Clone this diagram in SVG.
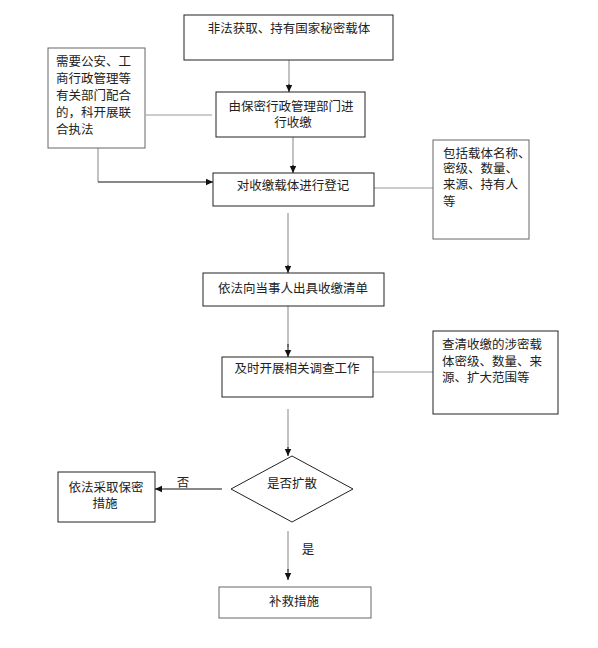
<svg xmlns="http://www.w3.org/2000/svg" width="598" height="648" viewBox="0 0 598 648">
<style>
.box{fill:#fff;stroke:#222;stroke-width:1}
.gbox{fill:#fff;stroke:#666;stroke-width:1}
text{font-family:"Liberation Serif","Noto Sans CJK SC",serif;font-size:12.5px;fill:#222}
.c{text-anchor:middle}
.g{fill:none;stroke:#999;stroke-width:1.2}
.k{fill:none;stroke:#111;stroke-width:1}
</style>
<defs>
<marker id="ah" markerWidth="8" markerHeight="8" refX="7" refY="4" orient="auto" markerUnits="userSpaceOnUse">
<path d="M0,0.8 L7,4 L0,7.2 Z" fill="#111"/>
</marker>
</defs>
<rect width="598" height="648" fill="#fff"/>
<g id="connectors">
<path class="g" d="M289,58 V86"/><path class="k" d="M289,84 V92" marker-end="url(#ah)"/>
<path class="g" d="M146,115 H212"/>
<path class="g" d="M293,137 V168"/><path class="k" d="M293,165 V173" marker-end="url(#ah)"/>
<path class="g" d="M98,148 V182"/><path class="k" d="M98,182 H213" marker-end="url(#ah)"/>
<path class="g" d="M374,188 H433"/>
<path class="g" d="M288,213 V268"/><path class="k" d="M288,265 V273" marker-end="url(#ah)"/>
<path class="g" d="M288,306 V347"/><path class="k" d="M288,344 V357" marker-end="url(#ah)"/>
<path class="g" d="M373,372 H433"/>
<path class="g" d="M288,409 V450"/><path class="k" d="M288,447 V456" marker-end="url(#ah)"/>
<path class="k" d="M222,489 H155" marker-end="url(#ah)"/>
<text x="183" y="486.5" class="c">否</text>
<path class="g" d="M288,531 V572"/><path class="k" d="M288,569 V580" marker-end="url(#ah)"/>
<text x="308" y="553.5" class="c">是</text>
</g>
<g id="n1"><rect class="box" x="184" y="15" width="209" height="45"/><text x="289" y="33" class="c">非法获取、持有国家秘密载体</text></g>
<g id="n2"><rect class="gbox" x="48" y="48" width="97" height="100"/>
<text x="56" y="65.5">需要公安、工</text><text x="56" y="82.5">商行政管理等</text><text x="56" y="99.5">有关部门配合</text><text x="56" y="116.5">的，科开展联</text><text x="56" y="133.5">合执法</text></g>
<g id="n3"><rect class="box" x="216" y="92" width="149" height="45"/><text x="291" y="110.5" class="c">由保密行政管理部门进</text><text x="293" y="126.5" class="c">行收缴</text></g>
<g id="n4"><rect class="box" x="213" y="173" width="161" height="33"/><text x="293" y="189.5" class="c">对收缴载体进行登记</text></g>
<g id="n5"><rect class="gbox" x="433" y="140" width="96" height="99"/>
<text x="443" y="157.5">包括载体名称、</text><text x="443" y="173">密级、数量、</text><text x="443" y="189">来源、持有人</text><text x="443" y="205.5">等</text></g>
<g id="n6"><rect class="box" x="203" y="273" width="181" height="33"/><text x="293" y="292.5" class="c">依法向当事人出具收缴清单</text></g>
<g id="n7"><rect class="box" x="222" y="357" width="151" height="40"/><text x="297" y="372.5" class="c">及时开展相关调查工作</text></g>
<g id="n8"><rect class="box" x="433" y="331" width="125" height="83"/>
<text x="442" y="348.5">查清收缴的涉密载</text><text x="442" y="365.5">体密级、数量、来</text><text x="442" y="381.5">源、扩大范围等</text></g>
<g id="n9"><polygon class="box" points="292,456 353,489 292,522 231,489"/><text x="292" y="487.5" class="c">是否扩散</text></g>
<g id="n10"><rect class="box" x="58" y="472" width="97" height="50"/><text x="106" y="491.5" class="c">依法采取保密</text><text x="105" y="507.5" class="c">措施</text></g>
<g id="n11"><rect class="gbox" x="219" y="587" width="152" height="31"/><text x="294" y="605.5" class="c">补救措施</text></g>
</svg>
